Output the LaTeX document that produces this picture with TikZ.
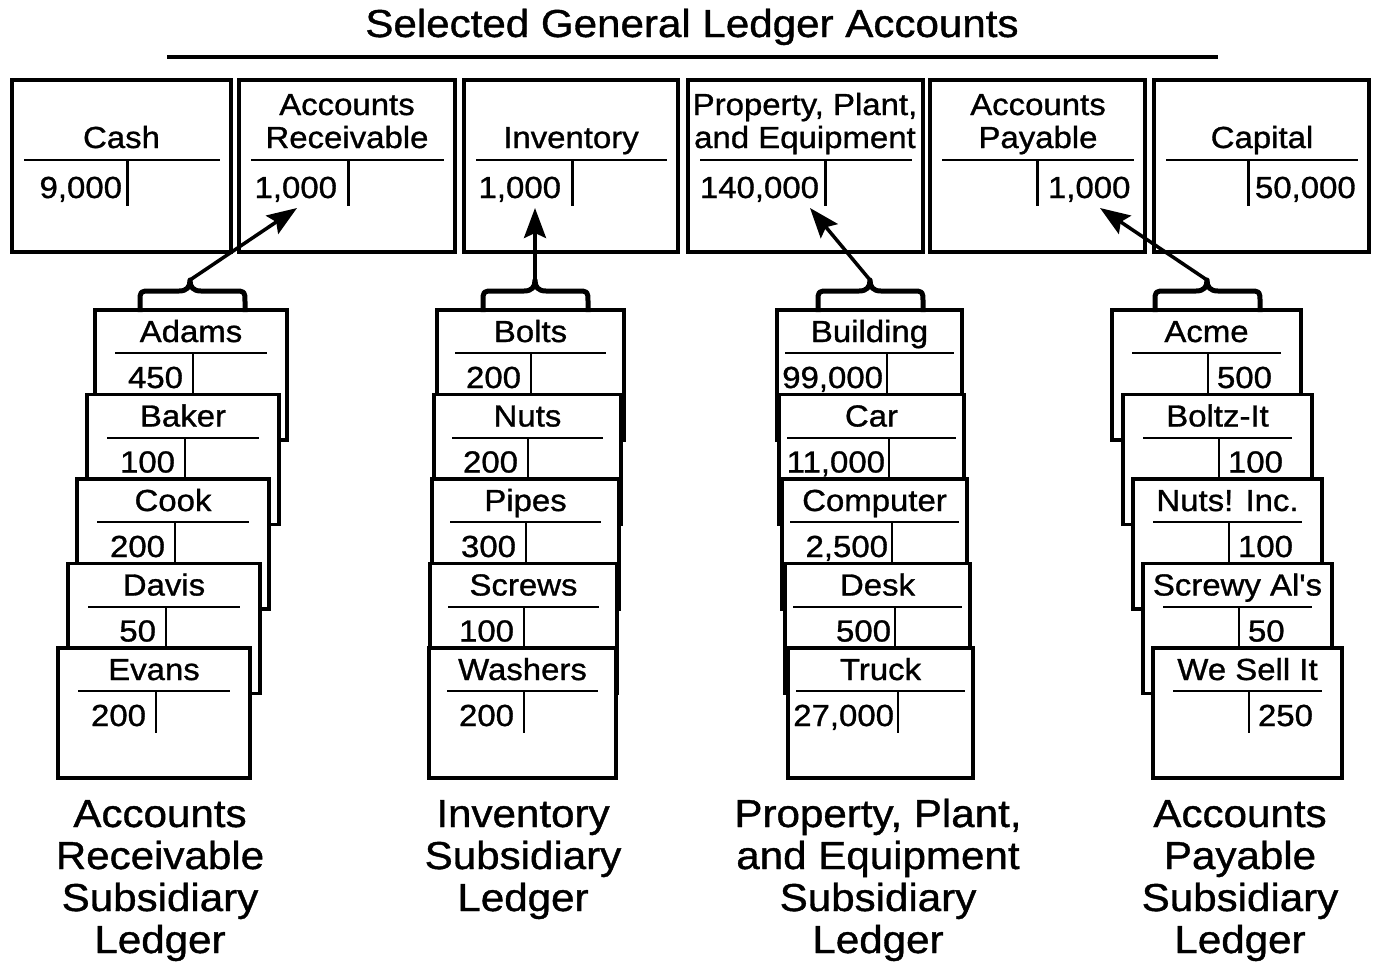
\documentclass[tikz,border=0pt]{standalone}
\usepackage{fontspec}
\setmainfont[FakeStretch=1.08,FakeBold=1]{Liberation Sans}
\newfontfamily\plainfont[FakeStretch=1.08,FakeBold=1]{Liberation Sans}
\usetikzlibrary{arrows.meta}
\tikzset{
  gframe/.style={draw, line width=4pt, inner sep=0pt, outer sep=0pt, anchor=north west, minimum height=172pt},
  grule/.style={line width=2pt},
  gvline/.style={line width=3pt},
  cframe/.style={draw, fill=white, line width=3.5pt, inner sep=0pt, outer sep=0pt, anchor=north west, minimum height=130pt},
  crule/.style={line width=2pt},
  cvline/.style={line width=2.5pt},
  txt/.style={inner sep=0pt, outer sep=0pt, font=\fontsize{30.5}{33}\selectfont},
  dnum/.style={txt, anchor=base east},
  cnum/.style={txt, anchor=base west},
  bigtxt/.style={inner sep=0pt, outer sep=0pt, font=\fontsize{39}{42}\selectfont, anchor=base},
  bracestyle/.style={line width=5pt, line join=round},
  link/.style={line width=3.5pt, -{Stealth[length=30pt,width=22pt,inset=5pt]}},
}
\newcommand{\GLBox}[4]{%
  \node[gframe, minimum width={#3pt-#2pt}] (#1) at (#2,80) {};
  \draw[grule] ({#2+12},160) -- ({#3-11},160);
  \draw[gvline] (#4,160) -- (#4,206);
}
\newcommand{\SubCard}[9]{%
  \node[cframe, minimum width={#4pt}] (#1) at (#2,#3) {};
  \node[txt, anchor=base] (#1t) at ({#2+#4/2},{#3+32}) {#5};
  \draw[crule] ({#2+#7},{#3+43}) -- ({#2+#4-#7},{#3+43});
  \draw[cvline] ({#2+#8},{#3+43}) -- ({#2+#8},{#3+85});
  \node[#9] (#1n) at ({#2+#8},{#3+78}) {#6};
}
\newcommand{\LedgerBrace}[4]{%
  \coordinate (#1) at (#3,280);
  \draw[bracestyle] (#2,312) -- (#2,302) .. controls (#2,291) .. ({#2+11},291)
    -- ({#3-11},291) .. controls ({#3-3},291) and (#3,287) .. (#1)
    .. controls (#3,287) and ({#3+3},291) .. ({#3+11},291)
    -- ({#4-11},291) .. controls (#4,291) .. (#4,302) -- (#4,312);
}
\begin{document}
\begin{tikzpicture}[x=1pt,y=-1pt]
\useasboundingbox (0,0) rectangle (1373,967);

% title
\node[bigtxt] (title) at (692,37) {Selected General Ledger Accounts};
\draw[line width=4pt] (167,57) -- (1218,57);

% general ledger boxes
\GLBox{cash}{12}{231}{127}
\node[txt, anchor=base] (casht) at (121.5,148) {Cash};
\node[dnum] (cashn) at (122,198) {9,000};

\GLBox{ar}{239}{455}{348}
\node[txt, anchor=base] (art1) at (347,115) {Accounts};
\node[txt, anchor=base] (art2) at (347,148) {Receivable};
\node[dnum] (arn) at (337,198) {1,000};

\GLBox{inv}{464}{678}{572}
\node[txt, anchor=base] (invt) at (571,148) {Inventory};
\node[dnum] (invn) at (561,198) {1,000};

\GLBox{ppe}{688}{923}{825}
\node[txt, anchor=base] (ppet1) at (805,115) {Property, Plant,};
\node[txt, anchor=base] (ppet2) at (805,148) {and Equipment};
\node[dnum] (ppen) at (819,198) {140,000};

\GLBox{ap}{930}{1145}{1037}
\node[txt, anchor=base] (apt1) at (1038,115) {Accounts};
\node[txt, anchor=base] (apt2) at (1038,148) {Payable};
\node[cnum] (apn) at (1048,198) {1,000};

\GLBox{cap}{1154}{1369}{1248}
\node[txt, anchor=base] (capt) at (1262,148) {Capital};
\node[cnum] (capn) at (1255,198) {50,000};

% arrow targets
\coordinate (arIn) at (297,208);
\coordinate (invIn) at (535,208);
\coordinate (ppeIn) at (810,208);
\coordinate (apIn) at (1100,208);

% AR subsidiary cards
\SubCard{ar1}{95}{310}{192}{Adams}{450}{20}{98}{dnum, xshift=-10pt}
\SubCard{ar2}{87}{394.5}{192}{Baker}{100}{20}{98}{dnum, xshift=-10pt}
\SubCard{ar3}{77}{479}{192}{Cook}{200}{20}{98}{dnum, xshift=-10pt}
\SubCard{ar4}{68}{563.5}{192}{Davis}{50}{20}{98}{dnum, xshift=-10pt}
\SubCard{ar5}{58}{648}{192}{Evans}{200}{20}{98}{dnum, xshift=-10pt}

% Inventory subsidiary cards
\SubCard{iv1}{437}{310}{187}{Bolts}{200}{18}{94}{dnum, xshift=-10pt}
\SubCard{iv2}{434}{394.5}{187}{Nuts}{200}{18}{94}{dnum, xshift=-10pt}
\SubCard{iv3}{432}{479}{187}{Pipes}{300}{18}{94}{dnum, xshift=-10pt}
\SubCard{iv4}{430}{563.5}{187}{Screws}{100}{18}{94}{dnum, xshift=-10pt}
\SubCard{iv5}{429}{648}{187}{Washers}{200}{18}{95}{dnum, xshift=-10pt}

% PPE subsidiary cards
\SubCard{pp1}{777}{310}{185}{Building}{99,000}{8}{110}{dnum, xshift=-4pt}
\SubCard{pp2}{779}{394.5}{185}{Car}{11,000}{8}{110}{dnum, xshift=-4pt}
\SubCard{pp3}{782}{479}{185}{Computer}{2,500}{8}{110}{dnum, xshift=-4pt}
\SubCard{pp4}{785}{563.5}{185}{Desk}{500}{8}{110}{dnum, xshift=-4pt}
\SubCard{pp5}{788}{648}{185}{Truck}{27,000}{8}{110}{dnum, xshift=-4pt}

% AP subsidiary cards
\SubCard{ap1}{1112}{310}{189}{Acme}{500}{20}{96}{cnum, xshift=9pt}
\SubCard{ap2}{1123}{394.5}{189}{Boltz-It}{100}{20}{96}{cnum, xshift=9pt}
\SubCard{ap3}{1133}{479}{189}{Nuts! Inc.}{100}{20}{96}{cnum, xshift=9pt}
\SubCard{ap4}{1143}{563.5}{189}{Screwy Al{\plainfont'}s}{50}{20}{96}{cnum, xshift=9pt}
\SubCard{ap5}{1153}{648}{189}{We Sell It}{250}{20}{96}{cnum, xshift=9pt}

% braces
\LedgerBrace{arTip}{140}{190}{245}
\LedgerBrace{invTip}{483}{535}{588}
\LedgerBrace{ppeTip}{818}{870}{923}
\LedgerBrace{apTip}{1155}{1207}{1260}

% arrows
\draw[link] (arTip) -- (arIn);
\draw[link] (invTip) -- (invIn);
\draw[link] (ppeTip) -- (ppeIn);
\draw[link] (apTip) -- (apIn);

% bottom labels
\node[bigtxt] (lab1a) at (160,827) {Accounts};
\node[bigtxt] (lab1b) at (160,869) {Receivable};
\node[bigtxt] (lab1c) at (160,911) {Subsidiary};
\node[bigtxt] (lab1d) at (160,953) {Ledger};

\node[bigtxt] (lab2a) at (523,827) {Inventory};
\node[bigtxt] (lab2b) at (523,869) {Subsidiary};
\node[bigtxt] (lab2c) at (523,911) {Ledger};

\node[bigtxt] (lab3a) at (878,827) {Property, Plant,};
\node[bigtxt] (lab3b) at (878,869) {and Equipment};
\node[bigtxt] (lab3c) at (878,911) {Subsidiary};
\node[bigtxt] (lab3d) at (878,953) {Ledger};

\node[bigtxt] (lab4a) at (1240,827) {Accounts};
\node[bigtxt] (lab4b) at (1240,869) {Payable};
\node[bigtxt] (lab4c) at (1240,911) {Subsidiary};
\node[bigtxt] (lab4d) at (1240,953) {Ledger};
\end{tikzpicture}
\end{document}
